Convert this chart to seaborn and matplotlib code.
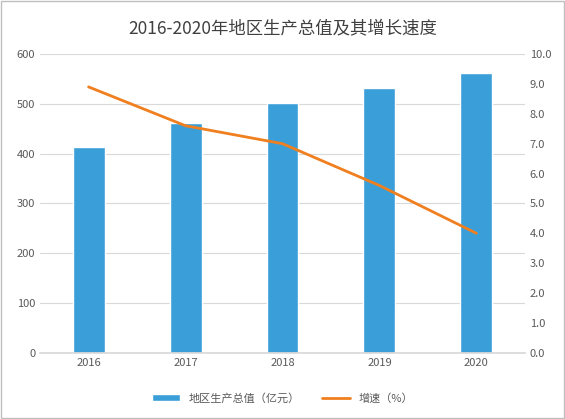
import matplotlib
matplotlib.use("Agg")
import matplotlib.pyplot as plt
import seaborn as sns
import pandas as pd

years = ["2016", "2017", "2018", "2019", "2020"]
gdp = [413, 462, 502, 531, 562]
growth = [8.9, 7.6, 7.0, 5.6, 4.0]

sns.set_theme(style="white")
plt.rcParams['font.family'] = ['Noto Sans CJK SC', 'DejaVu Sans']

fig = plt.figure(figsize=(5.65, 4.19), dpi=100)
ax = fig.add_axes([0.071, 0.158, 0.858, 0.713])
df = pd.DataFrame({"year": years, "gdp": gdp, "growth": growth})
sns.barplot(data=df, x="year", y="gdp", color="#3a9fd8", saturation=1, width=0.33, ax=ax,
            label="地区生产总值（亿元）")
ax.set_ylim(0, 600)
ax.set_yticks(range(0, 601, 100))
ax.yaxis.grid(True, color="#d9d9d9", lw=0.8)
ax.set_axisbelow(True)
ax.set_xlabel(""); ax.set_ylabel("")
for s in ["top", "right", "left"]:
    ax.spines[s].set_visible(False)
ax.spines["bottom"].set_color("#d9d9d9")
ax.tick_params(labelsize=8, colors="#595959", length=0)

ax2 = ax.twinx()
sns.lineplot(x=list(range(5)), y=growth, color="#f07f1f", lw=2, ax=ax2, label="增速（%）")
ax2.set_ylim(0, 10)
ax2.set_yticks([i for i in range(11)])
ax2.set_yticklabels([f"{i:.1f}" for i in range(11)])
for s in ax2.spines.values():
    s.set_visible(False)
ax2.tick_params(labelsize=8, colors="#595959", length=0)
ax2.get_legend().remove()
ax.set_xlim(-0.5, 4.5)
ax2.set_xlim(-0.5, 4.5)

h1, l1 = ax.get_legend_handles_labels()
h2, l2 = ax2.get_legend_handles_labels()
fig.legend(h1 + h2, l1 + l2, loc="center", bbox_to_anchor=(0.5, 0.05), ncol=2,
           frameon=False, fontsize=8, labelcolor="#595959", handlelength=2.5, columnspacing=2)
if ax.get_legend():
    ax.get_legend().remove()

fig.suptitle("2016-2020年地区生产总值及其增长速度", y=0.955, fontsize=12.5, color="#404040")
fig.patches.append(plt.Rectangle((0.002, 0.002), 0.996, 0.996, transform=fig.transFigure,
                                 fill=False, ec="#bfbfbf", lw=1))
fig.savefig("out.png", dpi=100)
